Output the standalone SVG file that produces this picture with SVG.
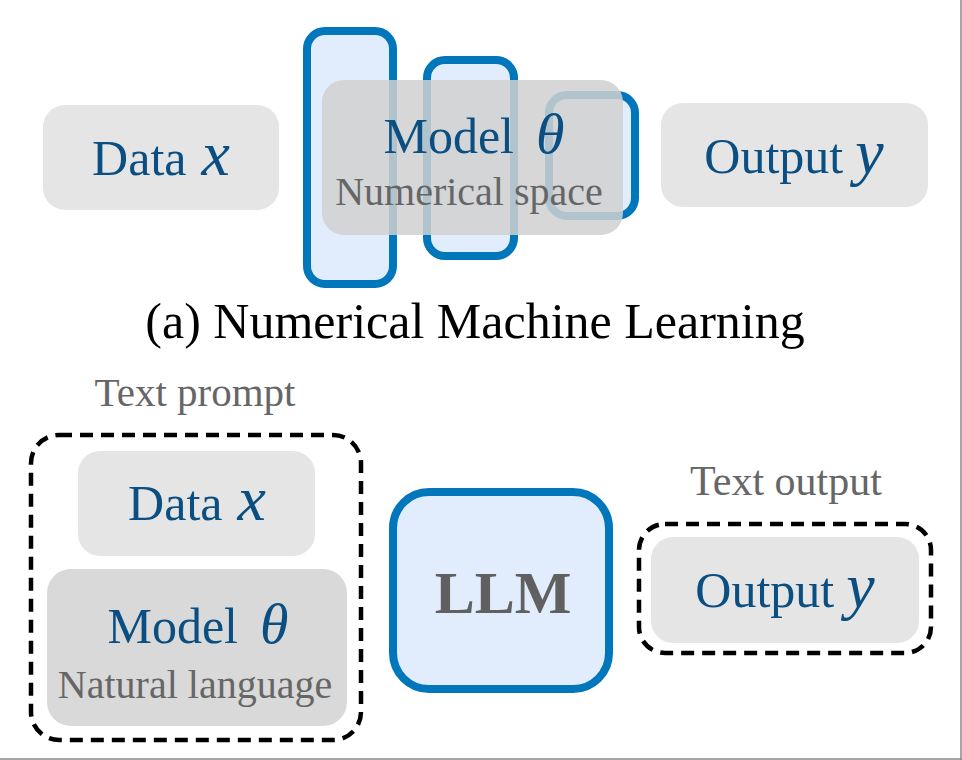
<svg xmlns="http://www.w3.org/2000/svg" width="962" height="760" viewBox="0 0 962 760">
<style>
.t{font-family:"Liberation Serif","Times New Roman",serif}
.blue{fill:#0b4f82}
.gray{fill:#666666}
.var{font-style:italic}
.box{fill:#e5e5e5}
.nn{fill:#e1edfc;stroke:#0077bb;stroke-width:8}
.dash{fill:none;stroke:#000;stroke-width:4.5;stroke-dasharray:13 8}
</style>
<rect x="0" y="0" width="962" height="760" fill="#ffffff"/>
<line x1="961" y1="0" x2="961" y2="760" stroke="#888" stroke-width="1.5"/>
<line x1="0" y1="759" x2="962" y2="759" stroke="#888" stroke-width="1.5"/>

<g id="data-top">
<rect class="box" x="43" y="105" width="236" height="105" rx="22"/>
<text class="t blue" x="161" y="175" font-size="50" text-anchor="middle">Data<tspan class="var" dx="15" font-size="64">x</tspan></text>
</g>

<g id="model-top">
<rect class="nn" x="307" y="31" width="86" height="253" rx="18"/>
<rect class="nn" x="427" y="60" width="87" height="196" rx="18"/>
<rect class="nn" x="549" y="95" width="86" height="121" rx="18"/>
<rect x="322" y="80" width="301" height="155" rx="22" fill="#d0d0d0" fill-opacity="0.85"/>
<text class="t blue" x="474" y="153" font-size="50" text-anchor="middle">Model<tspan class="var" dx="22" font-size="58">θ</tspan></text>
<text class="t gray" x="469" y="205" font-size="40" text-anchor="middle">Numerical space</text>
</g>

<g id="output-top">
<rect class="box" x="661" y="103" width="267" height="104" rx="22"/>
<text class="t blue" x="794" y="173" font-size="50" text-anchor="middle">Output<tspan class="var" dx="12" font-size="64">y</tspan></text>
</g>

<text class="t" x="475" y="338" font-size="50" text-anchor="middle" fill="#000">(a) Numerical Machine Learning</text>

<g id="prompt">
<text class="t gray" x="195" y="406" font-size="41" text-anchor="middle">Text prompt</text>
<rect class="dash" x="31" y="435" width="330" height="305" rx="28"/>
</g>

<g id="data-bottom">
<rect class="box" x="78" y="451" width="237" height="105" rx="22"/>
<text class="t blue" x="197" y="520" font-size="50" text-anchor="middle">Data<tspan class="var" dx="15" font-size="64">x</tspan></text>
</g>

<g id="model-bottom">
<rect x="47" y="569" width="300" height="157" rx="24" fill="#d9d9d9"/>
<text class="t blue" x="198" y="643" font-size="50" text-anchor="middle">Model<tspan class="var" dx="22" font-size="58">θ</tspan></text>
<text class="t gray" x="195" y="698" font-size="40" text-anchor="middle">Natural language</text>
</g>

<g id="llm">
<rect class="nn" x="393" y="492" width="216" height="197" rx="36"/>
<text class="t" x="503" y="613" font-size="60" font-weight="bold" text-anchor="middle" fill="#606060">LLM</text>
</g>

<g id="output-bottom">
<text class="t gray" x="786" y="495" font-size="42" text-anchor="middle">Text output</text>
<rect class="dash" x="639" y="524" width="292" height="129" rx="26"/>
<rect class="box" x="651" y="537" width="268" height="106" rx="22"/>
<text class="t blue" x="785" y="607" font-size="50" text-anchor="middle">Output<tspan class="var" dx="12" font-size="64">y</tspan></text>
</g>
</svg>
